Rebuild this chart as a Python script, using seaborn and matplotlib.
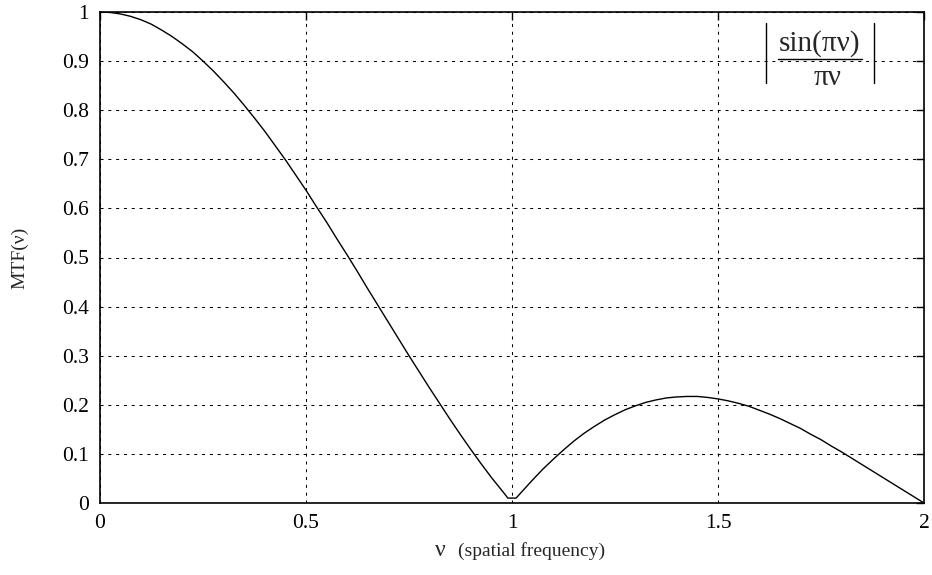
import matplotlib
matplotlib.use("Agg")
import matplotlib.pyplot as plt
import seaborn as sns
import pandas as pd
from matplotlib.lines import Line2D

# Values
nu = [0.000, 0.025, 0.050, 0.075, 0.100, 0.125, 0.150, 0.175, 0.200, 0.225,
      0.250, 0.275, 0.300, 0.325, 0.350, 0.375, 0.400, 0.425, 0.450, 0.475,
      0.500, 0.525, 0.550, 0.575, 0.600, 0.625, 0.650, 0.675, 0.700, 0.725,
      0.750, 0.775, 0.800, 0.825, 0.850, 0.875, 0.900, 0.925, 0.950, 0.975,
      0.990, 1.010, 1.025, 1.050, 1.075, 1.100, 1.125, 1.150, 1.175, 1.200,
      1.225, 1.250, 1.275, 1.300, 1.325, 1.350, 1.375, 1.400, 1.425, 1.450,
      1.475, 1.500, 1.525, 1.550, 1.575, 1.600, 1.625, 1.650, 1.675, 1.700,
      1.725, 1.750, 1.775, 1.800, 1.825, 1.850, 1.875, 1.900, 1.925, 1.950,
      1.975, 2.000]
mtf = [1.000, 0.999, 0.996, 0.991, 0.984, 0.975, 0.963, 0.950, 0.935, 0.919,
       0.900, 0.880, 0.858, 0.835, 0.810, 0.784, 0.757, 0.728, 0.699, 0.668,
       0.637, 0.604, 0.572, 0.538, 0.505, 0.471, 0.436, 0.402, 0.368, 0.334,
       0.300, 0.267, 0.234, 0.202, 0.170, 0.139, 0.109, 0.080, 0.052, 0.026,
       0.010, 0.010, 0.024, 0.047, 0.069, 0.089, 0.108, 0.126, 0.142, 0.156,
       0.169, 0.180, 0.190, 0.198, 0.205, 0.210, 0.214, 0.216, 0.217, 0.217,
       0.215, 0.212, 0.208, 0.203, 0.197, 0.189, 0.181, 0.172, 0.162, 0.152,
       0.140, 0.129, 0.116, 0.104, 0.091, 0.078, 0.065, 0.052, 0.039, 0.026,
       0.013, 0.000]
xticks = [0, 0.5, 1, 1.5, 2]
xtick_labels = ["0", "0.5", "1", "1.5", "2"]
yticks = [0, 0.1, 0.2, 0.3, 0.4, 0.5, 0.6, 0.7, 0.8, 0.9, 1]
ytick_labels = ["0", "0.1", "0.2", "0.3", "0.4", "0.5", "0.6", "0.7", "0.8", "0.9", "1"]

sns.set_theme(style="white")
plt.rcParams["font.family"] = ["Liberation Serif", "DejaVu Serif"]

df = pd.DataFrame({"nu": nu, "mtf": mtf})

W, H = 932, 575
fig = plt.figure(figsize=(W / 100, H / 100), dpi=100)
ax = fig.add_axes([100 / W, 1 - 503 / H, 824 / W, 491 / H])
sns.lineplot(data=df, x="nu", y="mtf", ax=ax, color="black", linewidth=1.0)

ax.set_xlim(0, 2)
ax.set_ylim(0, 1)
ax.set_xticks(xticks)
ax.set_xticklabels(xtick_labels)
ax.set_yticks(yticks)
ax.set_yticklabels(ytick_labels)
ax.tick_params(direction="in", length=6, width=1, top=True, right=True,
               labelsize=15.5, colors="black", pad=8)
ax.grid(True, linestyle=(0, (2.9, 4.6)), color="black", linewidth=0.75)
for s in ax.spines.values():
    s.set_color("black")
    s.set_linewidth(1.2)

ax.set_xlabel("")
ax.set_ylabel("")
fig.text(440 / W, 1 - 551 / H, "ν", fontsize=17, ha="center", va="center")
fig.text(458 / W, 1 - 551 / H, "(spatial frequency)", fontsize=14, ha="left", va="center")
fig.text(20 / W, 1 - 258 / H, "MTF(ν)", fontsize=14, rotation=90, ha="center", va="center")

# Formula box in the upper right
fig.text(820 / W, 1 - 51 / H, "sin(πν)", fontsize=21, ha="center", va="baseline")
fig.text(828 / W, 1 - 85 / H, "πν", fontsize=21, ha="center", va="baseline")
fig.add_artist(Line2D([778 / W, 862 / W], [1 - 59 / H, 1 - 59 / H], color="black", linewidth=1.0))
fig.add_artist(Line2D([766 / W, 766 / W], [1 - 23 / H, 1 - 83 / H], color="black", linewidth=1.0))
fig.add_artist(Line2D([874 / W, 874 / W], [1 - 23 / H, 1 - 83 / H], color="black", linewidth=1.0))

fig.savefig("out.png", dpi=100)
